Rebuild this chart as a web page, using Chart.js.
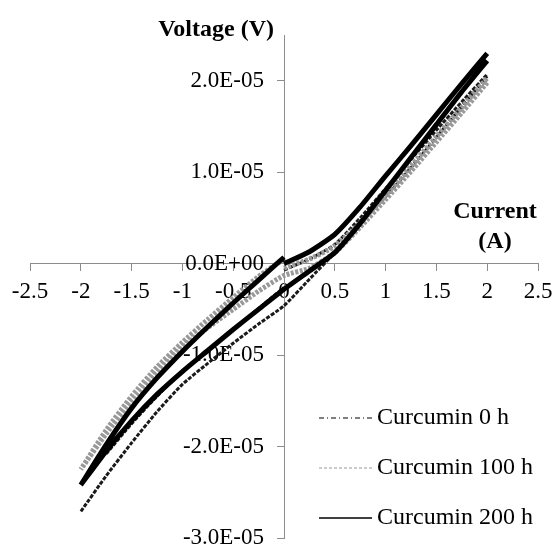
<!DOCTYPE html>
<html>
<head>
<meta charset="utf-8">
<title>Curcumin I-V loops</title>
<script src="https://cdn.jsdelivr.net/npm/chart.js@4.4.1/dist/chart.umd.min.js"></script>
<style>
  html, body { margin: 0; padding: 0; background: #fff; }
</style>
</head>
<body>
<canvas id="ivChart" width="555" height="547"></canvas>
<script>
// series names (legend order)
const seriesNames = ["Curcumin 0 h", "Curcumin 100 h", "Curcumin 200 h"];

// current sweep: 0 -> 2, (break), 2 -> -2 -> 0
const currentA = [
  0, 0.25, 0.5, 0.75, 1, 1.25, 1.5, 1.75, 2,
  2,
  2, 1.75, 1.5, 1.25, 1, 0.75, 0.5, 0.25, 0, -0.25, -0.5, -0.75, -1, -1.25, -1.5, -1.75, -2,
  -2, -1.75, -1.5, -1.25, -1, -0.75, -0.5, -0.25, 0
];

// voltage (V); null = pen lifted
const voltage0h = [
  -0.07e-5, 0.05e-5, 0.21e-5, 0.50e-5, 0.82e-5, 1.14e-5, 1.46e-5, 1.77e-5, 2.07e-5,
  null,
  2.05e-5, 1.72e-5, 1.38e-5, 1.05e-5, 0.73e-5, 0.44e-5, 0.12e-5, -0.17e-5, -0.46e-5, -0.66e-5, -0.87e-5, -1.09e-5, -1.32e-5, -1.62e-5, -1.96e-5, -2.32e-5, -2.71e-5,
  null, -2.08e-5, -1.75e-5, -1.45e-5, -1.18e-5, -0.95e-5, -0.72e-5, -0.49e-5, -0.26e-5
];
const voltage100h = [
  -0.05e-5, 0.05e-5, 0.19e-5, 0.45e-5, 0.75e-5, 1.07e-5, 1.39e-5, 1.71e-5, 2.03e-5,
  null,
  1.98e-5, 1.65e-5, 1.33e-5, 1.01e-5, 0.70e-5, 0.40e-5, 0.12e-5, -0.05e-5, -0.13e-5, -0.30e-5, -0.50e-5, -0.70e-5, -0.92e-5, -1.20e-5, -1.50e-5, -1.86e-5, -2.25e-5,
  -2.25e-5, -1.82e-5, -1.45e-5, -1.13e-5, -0.86e-5, -0.61e-5, -0.37e-5, -0.14e-5, 0.05e-5
];
const voltage200h = [
  0.00e-5, 0.13e-5, 0.32e-5, 0.62e-5, 0.96e-5, 1.29e-5, 1.63e-5, 1.97e-5, 2.30e-5,
  null,
  2.22e-5, 1.88e-5, 1.52e-5, 1.16e-5, 0.80e-5, 0.44e-5, 0.12e-5, -0.08e-5, -0.28e-5, -0.50e-5, -0.72e-5, -0.95e-5, -1.18e-5, -1.43e-5, -1.72e-5, -2.05e-5, -2.42e-5,
  -2.42e-5, -1.98e-5, -1.58e-5, -1.25e-5, -0.96e-5, -0.69e-5, -0.43e-5, -0.18e-5, 0.07e-5
];

// axis ticks
const xTickValues = [-2.5, -2, -1.5, -1, -0.5, 0, 0.5, 1, 1.5, 2, 2.5];
const xTickLabels = ["-2.5", "-2", "-1.5", "-1", "-0.5", "0", "0.5", "1", "1.5", "2", "2.5"];
const yTickValues = [-3e-5, -2e-5, -1e-5, 0, 1e-5, 2e-5];
const yTickLabels = ["-3.0E-05", "-2.0E-05", "-1.0E-05", "0.0E+00", "1.0E-05", "2.0E-05"];

const serif = "'Liberation Serif', 'Times New Roman', serif";
const axisGray = "#8c8c8c";

function points(ys) {
  return currentA.map((x, i) => ({ x, y: ys[i] }));
}

// keep the crossing axes from pushing the plot area in
function noOverhang(scale) {
  scale.paddingLeft = scale.paddingRight = scale.paddingTop = scale.paddingBottom = 0;
}

// axis titles and the legend in the lower right corner
const plotText = {
  id: "plotText",
  afterDraw(chart) {
    const { ctx, chartArea, scales } = chart;
    const x0 = scales.x.getPixelForValue(0);
    const y0 = scales.y.getPixelForValue(0);
    ctx.save();
    ctx.fillStyle = "#000";
    ctx.textBaseline = "middle";
    ctx.font = "bold 24px " + serif;
    ctx.textAlign = "right";
    ctx.fillText("Voltage (V)", x0 - 10, chartArea.top - 5);
    ctx.textAlign = "center";
    ctx.fillText("Current", chartArea.right - 43, y0 - 52);
    ctx.fillText("(A)", chartArea.right - 43, y0 - 22);

    ctx.font = "24px " + serif;
    ctx.textAlign = "left";
    chart.data.datasets.forEach((ds, i) => {
      const y = chartArea.bottom - 120 + i * 50;
      const lx = chartArea.right - 219;
      ctx.beginPath();
      ctx.strokeStyle = ds.legendColor;
      ctx.lineWidth = ds.legendWidth;
      ctx.setLineDash(ds.legendDash);
      ctx.moveTo(lx, y);
      ctx.lineTo(lx + 53, y);
      ctx.stroke();
      ctx.setLineDash([]);
      ctx.fillText(ds.label, lx + 58, y);
    });
    ctx.restore();
  }
};

new Chart(document.getElementById("ivChart"), {
  type: "scatter",
  data: {
    datasets: [
      {
        label: seriesNames[0], data: points(voltage0h), order: 3,
        borderColor: "#1a1a1a", borderWidth: 3, borderDash: [4, 1.5],
        legendColor: "#000", legendWidth: 1, legendDash: [5, 3, 1, 3]
      },
      {
        label: seriesNames[1], data: points(voltage100h), order: 2,
        borderColor: "#999999", borderWidth: 5, borderDash: [3, 1.5],
        legendColor: "#999999", legendWidth: 1, legendDash: [3, 2]
      },
      {
        label: seriesNames[2], data: points(voltage200h), order: 1,
        borderColor: "#000", borderWidth: 5,
        legendColor: "#000", legendWidth: 1.5, legendDash: []
      }
    ].map(ds => Object.assign(ds, { showLine: true, pointRadius: 0, tension: 0.2, spanGaps: false }))
  },
  options: {
    responsive: false,
    devicePixelRatio: 1,
    animation: false,
    layout: { padding: { left: 30, right: 17, top: 35, bottom: 9 } },
    plugins: { legend: { display: false }, tooltip: { enabled: false } },
    scales: {
      x: {
        type: "linear",
        position: { y: 0 },
        min: -2.5, max: 2.5,
        afterBuildTicks: s => { s.ticks = xTickValues.map(v => ({ value: v })); },
        afterFit: noOverhang,
        grid: { drawOnChartArea: false, tickLength: 7, color: axisGray },
        border: { color: axisGray },
        ticks: {
          autoSkip: false, maxRotation: 0, padding: 8, color: "#000",
          font: { family: serif, size: 23 },
          callback: (v, i) => xTickLabels[i]
        }
      },
      y: {
        type: "linear",
        position: "center", // x range is symmetric, so the centre is x = 0
        min: -3e-5, max: 2.5e-5,
        afterBuildTicks: s => { s.ticks = yTickValues.map(v => ({ value: v })); },
        afterFit: noOverhang,
        grid: { drawOnChartArea: false, tickLength: 7, color: axisGray },
        border: { color: axisGray },
        ticks: {
          autoSkip: false, padding: 13, color: "#000",
          font: { family: serif, size: 23 },
          callback: (v, i) => yTickLabels[i]
        }
      }
    }
  },
  plugins: [plotText]
});
</script>
</body>
</html>
